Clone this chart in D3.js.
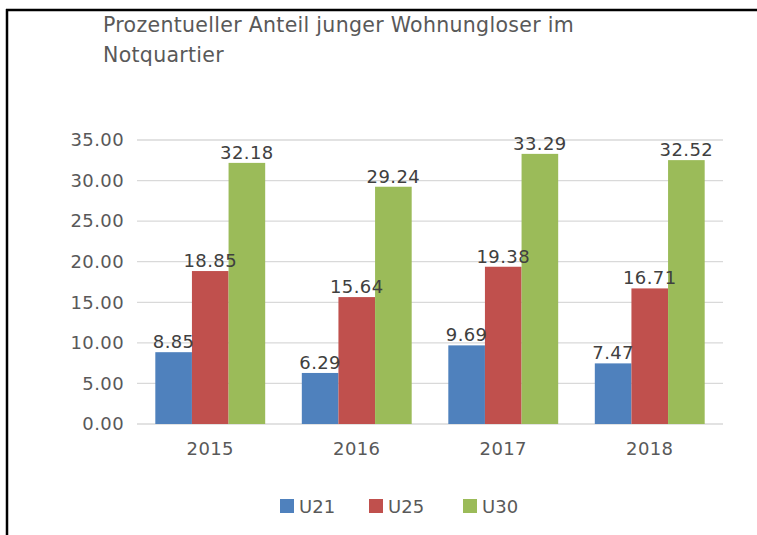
<!DOCTYPE html>
<html lang="de">
<head>
  <meta charset="UTF-8">
  <title>Prozentueller Anteil junger Wohnungloser im Notquartier</title>
  <script src="https://d3js.org/d3.v7.min.js"></script>
  <style>
    body { margin: 0; background: #fff; }
    svg text { font-family: "DejaVu Sans", sans-serif; }
  </style>
</head>
<body>
  <script>
    // data
    var years = ["2015", "2016", "2017", "2018"];
    var seriesNames = ["U21", "U25", "U30"];
    var u21 = [8.85, 6.29, 9.69, 7.47];
    var u25 = [18.85, 15.64, 19.38, 16.71];
    var u30 = [32.18, 29.24, 33.29, 32.52];
    var yTicks = [0, 5, 10, 15, 20, 25, 30, 35];
    var colors = ["#4f81bd", "#c0504d", "#9bbb59"];

    var w = 757, h = 535;
    var plotLeft = 137, plotRight = 723, plotTop = 140, plotBottom = 424;
    var fs = "18px";

    var svg = d3.select("body").append("svg")
      .attr("width", w)
      .attr("height", h);

    // frame lines (top and left only)
    svg.append("line").attr("x1", 6).attr("x2", w).attr("y1", 10).attr("y2", 10)
      .attr("stroke", "#000").attr("stroke-width", 2.5);
    svg.append("line").attr("x1", 7).attr("x2", 7).attr("y1", 9).attr("y2", h)
      .attr("stroke", "#000").attr("stroke-width", 2.5);

    // title
    var title = svg.append("text")
      .attr("x", 103).attr("y", 32)
      .attr("fill", "#595959")
      .style("font-size", "20.5px")
      .style("letter-spacing", "0.3px");
    title.append("tspan").attr("x", 103).attr("dy", 0).text("Prozentueller Anteil junger Wohnungloser im");
    title.append("tspan").attr("x", 103).attr("dy", 30).text("Notquartier");

    var x0 = d3.scaleBand().domain(years).range([plotLeft, plotRight]).paddingInner(0).paddingOuter(0);
    var x1 = d3.scaleBand().domain(seriesNames).range([0, x0.bandwidth()]).paddingOuter(0.5).paddingInner(0);
    var y = d3.scaleLinear().domain([0, 35]).range([plotBottom, plotTop]);

    // gridlines
    svg.append("g").selectAll("line").data(yTicks).enter().append("line")
      .attr("x1", plotLeft).attr("x2", plotRight)
      .attr("y1", function(d) { return y(d); })
      .attr("y2", function(d) { return y(d); })
      .attr("stroke", "#d9d9d9").attr("stroke-width", 1.3);

    // y axis labels
    var yAxis = d3.axisLeft(y).tickValues(yTicks).tickFormat(d3.format(".2f")).tickSize(0).tickPadding(0);
    var gy = svg.append("g").attr("transform", "translate(124,0)").call(yAxis);
    gy.select(".domain").remove();
    gy.attr("font-family", null);
    gy.selectAll("text").attr("fill", "#595959").style("font-size", fs).style("letter-spacing", "0.4px");

    // x axis labels
    var xAxis = d3.axisBottom(x0).tickSize(0).tickPadding(18);
    var gx = svg.append("g").attr("transform", "translate(0," + plotBottom + ")").call(xAxis);
    gx.select(".domain").remove();
    gx.attr("font-family", null);
    gx.selectAll("text").attr("fill", "#595959").style("font-size", fs).style("letter-spacing", "0.4px");

    var table = years.map(function(yr, i) {
      return { year: yr, values: [u21[i], u25[i], u30[i]] };
    });

    var groups = svg.append("g").selectAll("g").data(table).enter().append("g")
      .attr("transform", function(d) { return "translate(" + x0(d.year) + ",0)"; });

    groups.selectAll("rect")
      .data(function(d) { return d.values.map(function(v, j) { return { key: seriesNames[j], value: v, j: j }; }); })
      .enter().append("rect")
      .attr("x", function(d) { return x1(d.key); })
      .attr("y", function(d) { return y(d.value); })
      .attr("width", x1.bandwidth())
      .attr("height", function(d) { return plotBottom - y(d.value); })
      .attr("fill", function(d) { return colors[d.j]; });

    groups.selectAll("text.lbl")
      .data(function(d) { return d.values.map(function(v, j) { return { key: seriesNames[j], value: v }; }); })
      .enter().append("text")
      .attr("class", "lbl")
      .attr("x", function(d) { return x1(d.key) + x1.bandwidth() / 2; })
      .attr("y", function(d) { return y(d.value) - 4; })
      .attr("text-anchor", "middle")
      .attr("fill", "#404040")
      .style("font-size", fs)
      .style("letter-spacing", "0.4px")
      .text(function(d) { return d3.format(".2f")(d.value); });

    // legend
    var legendX = [280, 369, 463];
    var legend = svg.append("g").selectAll("g").data(seriesNames).enter().append("g")
      .attr("transform", function(d, i) { return "translate(" + legendX[i] + ",499)"; });
    legend.append("rect").attr("width", 14).attr("height", 14)
      .attr("fill", function(d, i) { return colors[i]; });
    legend.append("text").attr("x", 19).attr("y", 14)
      .attr("fill", "#595959").style("font-size", fs)
      .text(function(d) { return d; });
  </script>
</body>
</html>
